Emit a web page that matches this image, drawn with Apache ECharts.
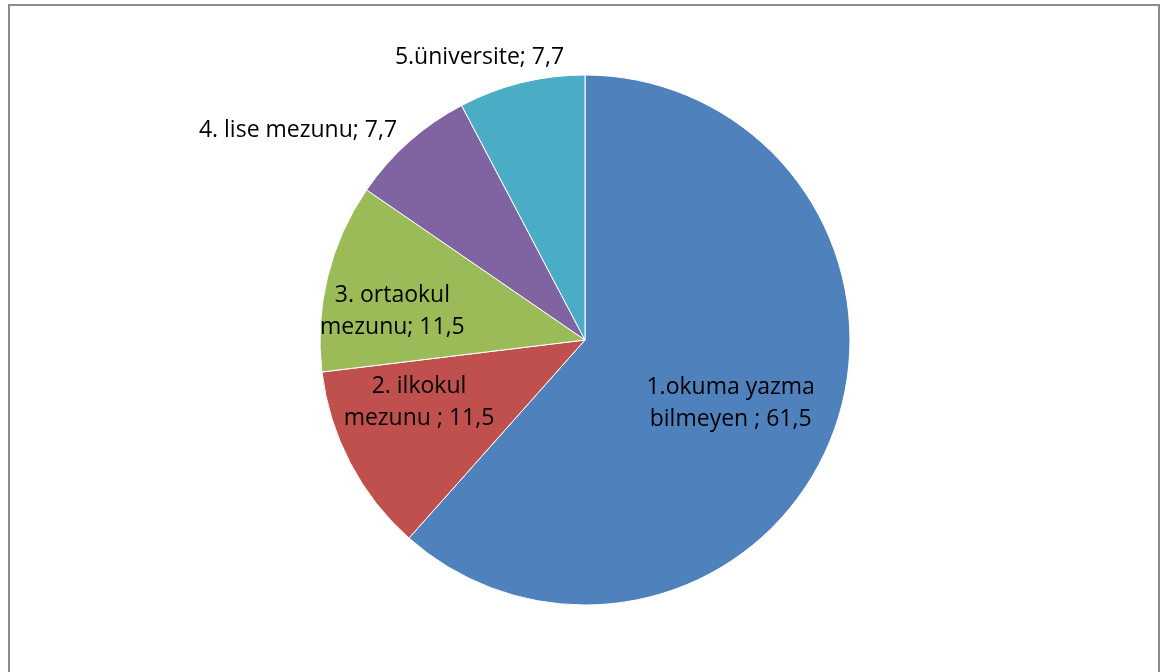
<!DOCTYPE html>
<html>
<head>
<meta charset="utf-8">
<script src="https://cdn.jsdelivr.net/npm/echarts@6/dist/echarts.min.js"></script>
<style>
  html, body { margin: 0; padding: 0; background: #fff; }
  .com-container {
    position: absolute;
    left: 8px;
    top: 4px;
    width: 1152px;
    height: 700px;
    border: 2px solid #8c8c8c;
    box-sizing: border-box;
  }
  .com-chart { position: absolute; left: 0; top: 0; width: 1173px; height: 672px; }
</style>
</head>
<body>
<div class="com-container"></div>
<div class="com-chart" id="chart"></div>
<script>
// egitim durumu (%)
const categories = ["1.okuma yazma bilmeyen", "2. ilkokul mezunu", "3. ortaokul mezunu", "4. lise mezunu", "5.üniversite"];
const values = [61.5, 11.5, 11.5, 7.7, 7.7];
const labelTexts = [
  "1.okuma yazma\nbilmeyen ; 61,5",
  "2. ilkokul\nmezunu ; 11,5",
  "3. ortaokul\nmezunu; 11,5",
  "4. lise mezunu; 7,7",
  "5.üniversite; 7,7",
];

const colors = ["#4F81BD", "#C0504D", "#9BBB59", "#8064A2", "#4BACC6"];
// label nudges relative to the slice's inner position
const labelOffsets = [[19, 15], [-46, 0], [-61, 4], [-197, -108], [-73, -151]];

const myChart = echarts.init(document.getElementById("chart"));

const option = {
  animation: false,
  series: [
    {
      type: "pie",
      center: [585, 340],
      radius: 265,
      startAngle: 90,
      clockwise: true,
      label: {
        show: true,
        position: "inner",
        color: "#000",
        fontFamily: "Open Sans",
        fontSize: 23,
        lineHeight: 32,
        align: "center",
      },
      labelLine: { show: false },
      itemStyle: {
        borderColor: "#ffffff",
        borderWidth: 1,
      },
      emphasis: { disabled: true },
      data: categories.map((name, i) => ({
        name: name,
        value: values[i],
        itemStyle: { color: colors[i] },
        label: {
          formatter: labelTexts[i],
          offset: labelOffsets[i],
        },
      })),
    },
  ],
};

myChart.setOption(option);
</script>
</body>
</html>
